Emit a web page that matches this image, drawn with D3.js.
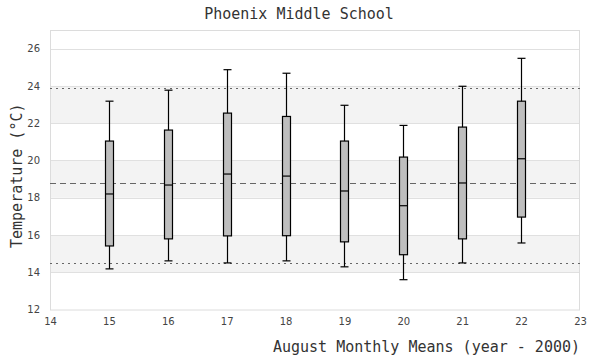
<!DOCTYPE html>
<html><head><meta charset="utf-8">
<script src="https://cdn.jsdelivr.net/npm/d3@7"></script>
<style>body{margin:0;background:#fff}</style>
</head><body>
<svg id="c" width="600" height="360"></svg>
<script>
const years = [15, 16, 17, 18, 19, 20, 21, 22];
const whiskerLow = [14.18, 14.61, 14.5, 14.61, 14.29, 13.6, 14.5, 15.57];
const q1 = [15.41, 15.79, 15.95, 15.96, 15.63, 14.94, 15.79, 16.96];
const median = [18.2, 18.68, 19.27, 19.16, 18.36, 17.57, 18.79, 20.09];
const q3 = [21.04, 21.63, 22.54, 22.36, 21.04, 20.18, 21.79, 23.18];
const whiskerHigh = [23.18, 23.77, 24.87, 24.68, 22.96, 21.88, 23.98, 25.48];
const meanLine = 18.79;
const upperLine = 23.88;
const lowerLine = 14.52;
const xTicks = [14, 15, 16, 17, 18, 19, 20, 21, 22, 23];
const yTicks = [12, 14, 16, 18, 20, 22, 24, 26];
const bands = [[14, 16], [18, 20], [22, 24]];

const svg = d3.select("#c");
const L = 50, R = 580, T = 30, B = 309.5;
const x = d3.scaleLinear().domain([14, 23]).range([L, R]);
const y = d3.scaleLinear().domain([12, 27]).range([B, T]);
const mono = "'DejaVu Sans Mono', monospace";

svg.append("g").selectAll("rect").data(bands).join("rect")
  .attr("x", L).attr("width", R - L)
  .attr("y", d => y(d[1])).attr("height", d => y(d[0]) - y(d[1]))
  .attr("fill", "#f3f3f3");

svg.append("g").selectAll("line").data(yTicks.filter(t => t > 12)).join("line")
  .attr("x1", L).attr("x2", R).attr("y1", d => Math.round(y(d)) + 0.5).attr("y2", d => Math.round(y(d)) + 0.5)
  .attr("stroke", "#e0e0e0").attr("stroke-width", 1);

svg.append("rect").attr("x", L + 0.5).attr("y", T + 0.5).attr("width", R - L - 1).attr("height", B - T)
  .attr("fill", "none").attr("stroke", "#dcdcdc");

// reference lines
[[upperLine, "2,4"], [lowerLine, "2,4"], [meanLine, "6,4"]].forEach(([v, dash]) => {
  svg.append("line").attr("x1", L).attr("x2", R)
    .attr("y1", Math.round(y(v)) + 0.5).attr("y2", Math.round(y(v)) + 0.5)
    .attr("stroke", "#666").attr("stroke-width", 1).attr("stroke-dasharray", dash);
});

const data = years.map((yr, i) => ({yr, lo: whiskerLow[i], q1: q1[i], med: median[i], q3: q3[i], hi: whiskerHigh[i]}));
const g = svg.append("g").selectAll("g").data(data).join("g");
const bw = 8, cw = 8;
const cx = d => Math.round(x(d.yr)) + 0.5;
g.append("line").attr("x1", cx).attr("x2", cx).attr("y1", d => y(d.hi)).attr("y2", d => y(d.lo))
  .attr("stroke", "#000").attr("stroke-width", 1.2);
g.append("line").attr("x1", d => cx(d) - cw / 2).attr("x2", d => cx(d) + cw / 2)
  .attr("y1", d => y(d.hi)).attr("y2", d => y(d.hi)).attr("stroke", "#000").attr("stroke-width", 1.2);
g.append("line").attr("x1", d => cx(d) - cw / 2).attr("x2", d => cx(d) + cw / 2)
  .attr("y1", d => y(d.lo)).attr("y2", d => y(d.lo)).attr("stroke", "#000").attr("stroke-width", 1.2);
g.append("rect").attr("x", d => cx(d) - bw / 2).attr("width", bw)
  .attr("y", d => y(d.q3)).attr("height", d => y(d.q1) - y(d.q3))
  .attr("fill", "#bebebe").attr("stroke", "#000").attr("stroke-width", 1.2);
g.append("line").attr("x1", d => cx(d) - bw / 2).attr("x2", d => cx(d) + bw / 2)
  .attr("y1", d => y(d.med)).attr("y2", d => y(d.med)).attr("stroke", "#000").attr("stroke-width", 1.2);

// axes
const yAxis = d3.axisLeft(y).tickValues(yTicks).tickSize(0).tickPadding(10);
const ya = svg.append("g").attr("transform", `translate(${L},0)`).call(yAxis);
ya.select(".domain").remove();
ya.selectAll("text").attr("font-family", "'DejaVu Sans', sans-serif").attr("font-size", 10).attr("fill", "#444");

const xAxis = d3.axisBottom(x).tickValues(xTicks).tickSize(0).tickPadding(8);
const xa = svg.append("g").attr("transform", `translate(0,${B})`).call(xAxis);
xa.select(".domain").remove();
xa.selectAll("text").attr("font-family", "'DejaVu Sans', sans-serif").attr("font-size", 10).attr("fill", "#444");

svg.append("text").attr("x", 299).attr("y", 19).attr("text-anchor", "middle")
  .attr("font-family", mono).attr("font-size", 15).attr("fill", "#333").text("Phoenix Middle School");
svg.append("text").attr("x", 580).attr("y", 352).attr("text-anchor", "end")
  .attr("font-family", mono).attr("font-size", 15).attr("fill", "#333").text("August Monthly Means (year - 2000)");
svg.append("text").attr("transform", `translate(22,${(T + B) / 2 + 6}) rotate(-90)`).attr("text-anchor", "middle")
  .attr("font-family", mono).attr("font-size", 15).attr("fill", "#333").text("Temperature (°C)");
</script>
</body></html>
